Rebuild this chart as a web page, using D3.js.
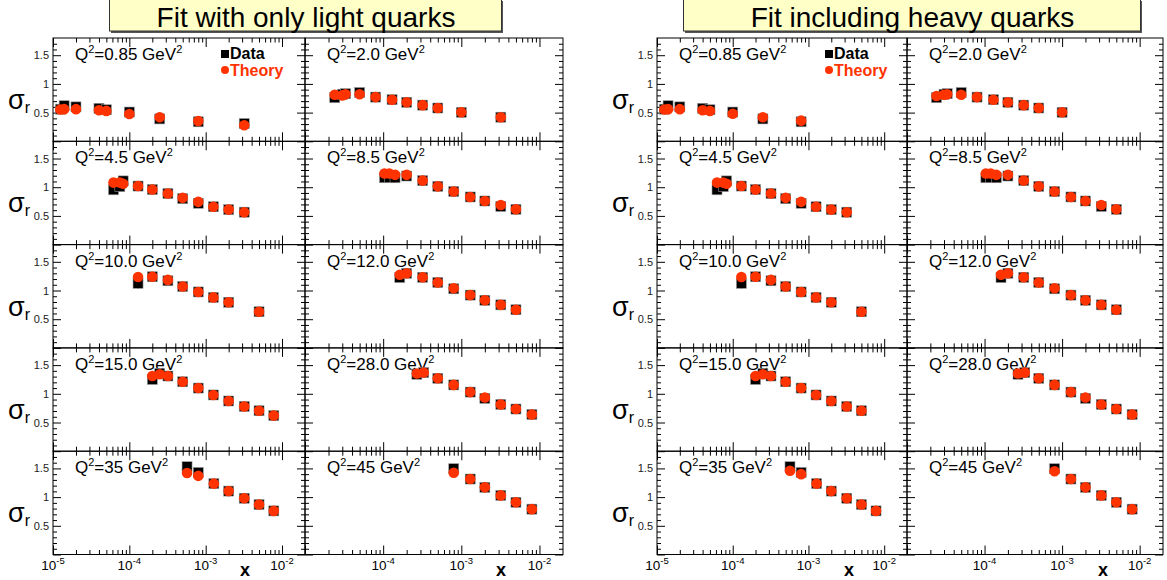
<!DOCTYPE html>
<html><head><meta charset="utf-8">
<script src="https://cdn.jsdelivr.net/npm/d3@7"></script>
<style>
body{margin:0;background:#fff}
svg{display:block}
text{font-family:"Liberation Sans",Arial,Helvetica,sans-serif}
</style>
</head><body><svg id="c" width="1167" height="580"></svg>
<script>
// ---------------- data ----------------
const titles = ["Fit with only light quarks", "Fit including heavy quarks"];
const q2Labels = ["0.85", "2.0", "4.5", "8.5", "10.0", "12.0", "15.0", "28.0", "35", "45"];
const xMajorTicks = [1e-5, 1e-4, 1e-3, 1e-2];
const xTickExponents = ["-5", "-4", "-3", "-2"];
const yTickLabels = [0.5, 1, 1.5];
const legendLabels = ["Data", "Theory"];

// Fit with only light quarks
const lightX = [
  [1.25e-5, 1.4e-5, 2.0e-5, 4.0e-5, 5.0e-5, 1.0e-4, 2.5e-4, 8.0e-4, 3.2e-3],
  [2.4e-5, 3.0e-5, 3.3e-5, 5.0e-5, 8.0e-5, 1.3e-4, 2.0e-4, 3.2e-4, 5.0e-4, 1.0e-3, 3.2e-3],
  [6.2e-5, 7.5e-5, 8.3e-5, 1.3e-4, 2.0e-4, 3.2e-4, 5.0e-4, 8.0e-4, 1.26e-3, 2.0e-3, 3.2e-3],
  [1.04e-4, 1.2e-4, 1.42e-4, 2.0e-4, 3.2e-4, 5.0e-4, 8.0e-4, 1.3e-3, 2.0e-3, 3.2e-3, 5.0e-3],
  [1.3e-4, 2.0e-4, 3.2e-4, 5.0e-4, 8.0e-4, 1.26e-3, 2.0e-3, 5.0e-3],
  [1.63e-4, 2.0e-4, 3.2e-4, 5.0e-4, 8.0e-4, 1.3e-3, 2.0e-3, 3.2e-3, 5.0e-3],
  [2.0e-4, 2.5e-4, 3.2e-4, 5.0e-4, 8.0e-4, 1.26e-3, 2.0e-3, 3.2e-3, 5.0e-3, 7.8e-3],
  [2.7e-4, 3.3e-4, 5.0e-4, 8.0e-4, 1.3e-3, 2.0e-3, 3.2e-3, 5.0e-3, 8.0e-3],
  [5.7e-4, 8.0e-4, 1.28e-3, 2.0e-3, 3.2e-3, 5.0e-3, 7.8e-3],
  [8.0e-4, 1.3e-3, 2.0e-3, 3.2e-3, 5.0e-3, 8.0e-3]
];
const lightData = [
  [0.56, 0.62, 0.60, 0.575, 0.55, 0.51, 0.39, 0.34, 0.31],
  [0.76, 0.82, 0.83, 0.85, 0.77, 0.725, 0.68, 0.63, 0.58, 0.505, 0.42],
  [0.955, 1.01, 1.11, 1.02, 0.96, 0.89, 0.80, 0.72, 0.66, 0.61, 0.565],
  [1.165, 1.17, 1.165, 1.195, 1.115, 1.015, 0.925, 0.83, 0.76, 0.665, 0.615],
  [1.125, 1.24, 1.17, 1.07, 0.975, 0.88, 0.795, 0.63],
  [1.225, 1.30, 1.23, 1.14, 1.03, 0.92, 0.83, 0.75, 0.665],
  [1.25, 1.355, 1.31, 1.21, 1.10, 0.98, 0.875, 0.78, 0.705, 0.62],
  [1.34, 1.37, 1.27, 1.155, 1.03, 0.92, 0.815, 0.735, 0.64],
  [1.53, 1.43, 1.235, 1.105, 0.98, 0.87, 0.76],
  [1.495, 1.315, 1.17, 1.03, 0.91, 0.79]
];
const lightErr = [
  [0.03, 0.04, 0.03, 0.02, 0.02, 0.02, 0.02, 0.02, 0.02],
  [0.03, 0.03, 0.03, 0.03, 0.02, 0.02, 0.02, 0.02, 0.02, 0.02, 0.02],
  [0.05, 0.05, 0.05, 0.03, 0.02, 0.02, 0.02, 0.02, 0.02, 0.02, 0.02],
  [0.04, 0.04, 0.04, 0.03, 0.02, 0.02, 0.02, 0.02, 0.02, 0.02, 0.02],
  [0.09, 0.03, 0.02, 0.02, 0.02, 0.02, 0.02, 0.02],
  [0.04, 0.03, 0.02, 0.02, 0.02, 0.02, 0.02, 0.02, 0.02],
  [0.04, 0.03, 0.03, 0.02, 0.02, 0.02, 0.02, 0.02, 0.02, 0.02],
  [0.04, 0.03, 0.02, 0.02, 0.02, 0.02, 0.02, 0.02, 0.02],
  [0.04, 0.03, 0.02, 0.02, 0.02, 0.02, 0.02],
  [0.04, 0.03, 0.02, 0.02, 0.02, 0.02]
];
const lightTheory = [
  [0.555, 0.56, 0.56, 0.54, 0.53, 0.475, 0.42, 0.355, 0.28],
  [0.81, 0.80, 0.82, 0.82, 0.77, 0.725, 0.68, 0.63, 0.58, 0.505, 0.42],
  [1.08, 1.08, 1.06, 1.02, 0.96, 0.89, 0.815, 0.745, 0.66, 0.61, 0.565],
  [1.24, 1.24, 1.215, 1.215, 1.115, 1.015, 0.925, 0.83, 0.76, 0.69, 0.615],
  [1.235, 1.24, 1.185, 1.07, 0.975, 0.88, 0.795, 0.63],
  [1.275, 1.30, 1.23, 1.14, 1.04, 0.92, 0.83, 0.75, 0.665],
  [1.31, 1.34, 1.31, 1.21, 1.10, 0.98, 0.875, 0.78, 0.705, 0.62],
  [1.355, 1.37, 1.27, 1.155, 1.03, 0.935, 0.815, 0.735, 0.64],
  [1.42, 1.37, 1.235, 1.105, 0.98, 0.87, 0.76],
  [1.425, 1.315, 1.17, 1.03, 0.91, 0.79]
];

// Fit including heavy quarks
const heavyX = [
  [1.25e-5, 1.4e-5, 2.0e-5, 4.0e-5, 5.0e-5, 1.0e-4, 2.5e-4, 8.0e-4],
  [2.4e-5, 3.0e-5, 3.3e-5, 5.0e-5, 8.0e-5, 1.3e-4, 2.0e-4, 3.2e-4, 5.0e-4, 1.0e-3],
  [6.2e-5, 7.5e-5, 8.3e-5, 1.3e-4, 2.0e-4, 3.2e-4, 5.0e-4, 8.0e-4, 1.26e-3, 2.0e-3, 3.2e-3],
  [1.04e-4, 1.2e-4, 1.42e-4, 2.0e-4, 3.2e-4, 5.0e-4, 8.0e-4, 1.3e-3, 2.0e-3, 3.2e-3, 5.0e-3],
  [1.3e-4, 2.0e-4, 3.2e-4, 5.0e-4, 8.0e-4, 1.26e-3, 2.0e-3, 5.0e-3],
  [1.63e-4, 2.0e-4, 3.2e-4, 5.0e-4, 8.0e-4, 1.3e-3, 2.0e-3, 3.2e-3, 5.0e-3],
  [2.0e-4, 2.5e-4, 3.2e-4, 5.0e-4, 8.0e-4, 1.26e-3, 2.0e-3, 3.2e-3, 5.0e-3],
  [2.7e-4, 3.3e-4, 5.0e-4, 8.0e-4, 1.3e-3, 2.0e-3, 3.2e-3, 5.0e-3, 8.0e-3],
  [5.7e-4, 8.0e-4, 1.28e-3, 2.0e-3, 3.2e-3, 5.0e-3, 7.8e-3],
  [8.0e-4, 1.3e-3, 2.0e-3, 3.2e-3, 5.0e-3, 8.0e-3]
];
const heavyData = [
  [0.56, 0.62, 0.60, 0.575, 0.55, 0.51, 0.39, 0.34],
  [0.76, 0.82, 0.83, 0.85, 0.77, 0.725, 0.68, 0.63, 0.58, 0.505],
  [0.955, 1.01, 1.11, 1.02, 0.96, 0.89, 0.80, 0.72, 0.66, 0.61, 0.565],
  [1.165, 1.17, 1.165, 1.195, 1.115, 1.015, 0.925, 0.83, 0.76, 0.665, 0.615],
  [1.125, 1.24, 1.17, 1.07, 0.975, 0.88, 0.795, 0.63],
  [1.225, 1.30, 1.23, 1.14, 1.03, 0.92, 0.83, 0.75, 0.665],
  [1.25, 1.355, 1.31, 1.21, 1.10, 0.98, 0.875, 0.78, 0.705],
  [1.34, 1.37, 1.27, 1.155, 1.03, 0.92, 0.815, 0.735, 0.64],
  [1.53, 1.43, 1.235, 1.105, 0.98, 0.87, 0.76],
  [1.495, 1.315, 1.17, 1.03, 0.91, 0.79]
];
const heavyErr = [
  [0.03, 0.04, 0.03, 0.02, 0.02, 0.02, 0.02, 0.02],
  [0.03, 0.03, 0.03, 0.03, 0.02, 0.02, 0.02, 0.02, 0.02, 0.02],
  [0.05, 0.05, 0.05, 0.03, 0.02, 0.02, 0.02, 0.02, 0.02, 0.02, 0.02],
  [0.04, 0.04, 0.04, 0.03, 0.02, 0.02, 0.02, 0.02, 0.02, 0.02, 0.02],
  [0.09, 0.03, 0.02, 0.02, 0.02, 0.02, 0.02, 0.02],
  [0.04, 0.03, 0.02, 0.02, 0.02, 0.02, 0.02, 0.02, 0.02],
  [0.04, 0.03, 0.03, 0.02, 0.02, 0.02, 0.02, 0.02, 0.02],
  [0.04, 0.03, 0.02, 0.02, 0.02, 0.02, 0.02, 0.02, 0.02],
  [0.04, 0.03, 0.02, 0.02, 0.02, 0.02, 0.02],
  [0.04, 0.03, 0.02, 0.02, 0.02, 0.02]
];
const heavyTheory = [
  [0.555, 0.56, 0.56, 0.54, 0.53, 0.48, 0.42, 0.36],
  [0.79, 0.81, 0.82, 0.81, 0.77, 0.725, 0.68, 0.63, 0.58, 0.505],
  [1.08, 1.08, 1.06, 1.02, 0.96, 0.89, 0.815, 0.745, 0.66, 0.61, 0.565],
  [1.24, 1.24, 1.215, 1.215, 1.115, 1.015, 0.925, 0.83, 0.76, 0.69, 0.615],
  [1.235, 1.24, 1.185, 1.07, 0.975, 0.88, 0.795, 0.63],
  [1.275, 1.30, 1.23, 1.14, 1.04, 0.92, 0.83, 0.75, 0.665],
  [1.31, 1.34, 1.31, 1.21, 1.10, 0.98, 0.875, 0.78, 0.705],
  [1.355, 1.37, 1.27, 1.155, 1.03, 0.935, 0.815, 0.735, 0.64],
  [1.46, 1.40, 1.235, 1.105, 0.98, 0.87, 0.76],
  [1.45, 1.315, 1.17, 1.03, 0.91, 0.79]
];

// ---------------- layout ----------------
const RED = "#ff3300";
const figs = [
  {x0: 53, xm: 305, x1: 563, bx0: 109, bx1: 501, X: lightX, D: lightData, E: lightErr, T: lightTheory},
  {x0: 657, xm: 907, x1: 1163, bx0: 683, bx1: 1140, X: heavyX, D: heavyData, E: heavyErr, T: heavyTheory}
];
const TOP = 38, ROWH = 103.3;
const svg = d3.select("#c");

const xMinor = [];
for (let e = -5; e <= -2; e++) for (let m = 2; m <= 9; m++) { const v = m * Math.pow(10, e); if (v < 0.02) xMinor.push(v); }
const yMajor = [0, 0.5, 1, 1.5];
const yMinor = d3.range(1, 18).map(i => i / 10).filter(v => Math.abs(v * 2 - Math.round(v * 2)) > 1e-6);

function axisGroup(g, axis) {
  g.call(axis);
  g.select(".domain").remove();
  g.selectAll(".tick line").attr("stroke", "#000").attr("stroke-width", 1);
  g.selectAll(".tick text").remove();
}

figs.forEach((f, fi) => {
  // title box
  const tb = svg.append("g");
  tb.append("rect").attr("x", f.bx0 + 2).attr("y", 1).attr("width", f.bx1 - f.bx0).attr("height", 32).attr("fill", "#555");
  tb.append("rect").attr("x", f.bx0 + 0.5).attr("y", -1).attr("width", f.bx1 - f.bx0).attr("height", 32)
    .attr("fill", "#ffffc8").attr("stroke", "#333").attr("stroke-width", 1);
  tb.append("text").attr("x", (f.bx0 + f.bx1) / 2 + 1).attr("y", 26.5).attr("text-anchor", "middle")
    .attr("font-size", 28).attr("fill", "#000").text(titles[fi]);

  for (let p = 0; p < 10; p++) {
    const row = Math.floor(p / 2), col = p % 2;
    const px0 = col === 0 ? f.x0 : f.xm, px1 = col === 0 ? f.xm : f.x1;
    const py0 = TOP + row * ROWH, py1 = py0 + ROWH;
    const x = d3.scaleLog().domain([1e-5, 0.02]).range([px0, px1]);
    const y = d3.scaleLinear().domain([0, 1.8]).range([py1, py0]);
    const g = svg.append("g");

    // ticks (inward on all four sides)
    axisGroup(g.append("g").attr("transform", `translate(0,${py1})`), d3.axisBottom(x).tickValues(xMajorTicks).tickSize(-9).tickFormat(""));
    axisGroup(g.append("g").attr("transform", `translate(0,${py1})`), d3.axisBottom(x).tickValues(xMinor).tickSize(-4.5).tickFormat(""));
    axisGroup(g.append("g").attr("transform", `translate(0,${py0})`), d3.axisTop(x).tickValues(xMajorTicks).tickSize(-9).tickFormat(""));
    axisGroup(g.append("g").attr("transform", `translate(0,${py0})`), d3.axisTop(x).tickValues(xMinor).tickSize(-4.5).tickFormat(""));
    axisGroup(g.append("g").attr("transform", `translate(${px0},0)`), d3.axisLeft(y).tickValues(yMajor).tickSize(-8).tickFormat(""));
    axisGroup(g.append("g").attr("transform", `translate(${px0},0)`), d3.axisLeft(y).tickValues(yMinor).tickSize(-4).tickFormat(""));
    axisGroup(g.append("g").attr("transform", `translate(${px1},0)`), d3.axisRight(y).tickValues(yMajor).tickSize(-8).tickFormat(""));
    axisGroup(g.append("g").attr("transform", `translate(${px1},0)`), d3.axisRight(y).tickValues(yMinor).tickSize(-4).tickFormat(""));

    // frame
    g.append("rect").attr("x", px0).attr("y", py0).attr("width", px1 - px0).attr("height", py1 - py0)
      .attr("fill", "none").attr("stroke", "#000").attr("stroke-width", 1);

    // y tick labels (left column only)
    if (col === 0) {
      g.selectAll(".yl").data(yTickLabels).enter().append("text")
        .attr("x", px0 - 4).attr("y", d => y(d) + 4).attr("text-anchor", "end")
        .attr("font-size", 11).attr("fill", "#222").text(d => d3.format("")(d));
      const s = g.append("text").attr("x", px0 - 45).attr("y", py0 + 71).attr("font-size", 27).attr("fill", "#000");
      s.append("tspan").text("σ");
      s.append("tspan").attr("font-size", 16).attr("dy", 4).text("r");
    }

    // x tick labels (bottom row only)
    if (row === 4) {
      xMajorTicks.forEach((v, i) => {
        if (col === 1 && i === 0) return;
        const t = g.append("text").attr("x", x(v)).attr("y", 570).attr("text-anchor", "middle")
          .attr("font-size", 13.5).attr("fill", "#000");
        t.append("tspan").text("10");
        t.append("tspan").attr("font-size", 9.5).attr("dy", -6).text(xTickExponents[i]);
      });
      g.append("text").attr("x", col === 0 ? px0 + 192 : px0 + 196).attr("y", 576).attr("text-anchor", "middle")
        .attr("font-size", 18).attr("font-weight", "bold").text("x");
    }

    // Q2 label
    const q = g.append("text").attr("x", px0 + 22).attr("y", py0 + 22).attr("font-size", 17).attr("fill", "#000");
    q.append("tspan").text("Q");
    q.append("tspan").attr("font-size", 11).attr("dy", -7).text("2");
    q.append("tspan").attr("dy", 7).text("=" + q2Labels[p] + " GeV");
    q.append("tspan").attr("font-size", 11).attr("dy", -7).text("2");

    // legend in first panel
    if (p === 0) {
      g.append("rect").attr("x", px0 + 168).attr("y", py0 + 12).attr("width", 8).attr("height", 8).attr("fill", "#000");
      g.append("text").attr("x", px0 + 177).attr("y", py0 + 21).attr("font-size", 16).attr("font-weight", "bold").attr("fill", "#000").text(legendLabels[0]);
      g.append("circle").attr("cx", px0 + 172).attr("cy", py0 + 32).attr("r", 4).attr("fill", RED);
      g.append("text").attr("x", px0 + 177).attr("y", py0 + 38).attr("font-size", 16).attr("font-weight", "bold").attr("fill", RED).text(legendLabels[1]);
    }

    // data
    const pts = f.X[p].map((xv, i) => ({x: xv, d: f.D[p][i], e: f.E[p][i], t: f.T[p][i]}));
    g.selectAll(".eb").data(pts).enter().append("line")
      .attr("x1", d => x(d.x)).attr("x2", d => x(d.x))
      .attr("y1", d => y(d.d - d.e)).attr("y2", d => y(d.d + d.e))
      .attr("stroke", "#000").attr("stroke-width", 1.2);
    g.selectAll(".sq").data(pts).enter().append("rect")
      .attr("x", d => x(d.x) - 5).attr("y", d => y(d.d) - 5).attr("width", 10).attr("height", 10)
      .attr("fill", "#000").attr("stroke", "#999").attr("stroke-width", 0.6);
    g.selectAll(".ci").data(pts).enter().append("circle")
      .attr("cx", d => x(d.x)).attr("cy", d => y(d.t)).attr("r", 5.3).attr("fill", RED);
  }
});
</script>
</body></html>
